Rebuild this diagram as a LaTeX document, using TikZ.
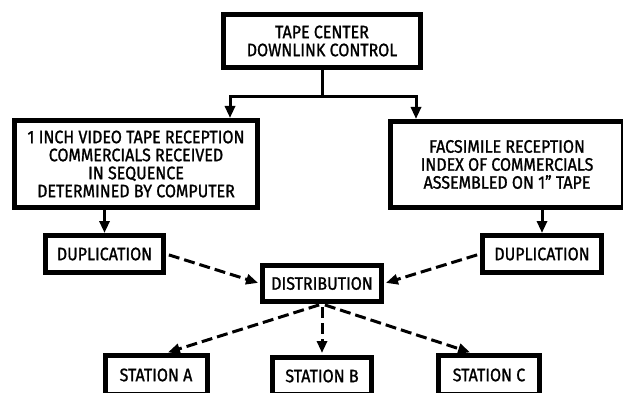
\documentclass[tikz,border=0pt]{standalone}
\usepackage{fontspec}
\setmainfont[FakeStretch=0.89,FakeBold=1.2]{Fira Sans}
\usetikzlibrary{arrows.meta,positioning}

\tikzset{
    block/.style={draw, line width=5pt, align=center, inner sep=0pt,
        font=\fontsize{18}{18}\selectfont},
    flow/.style={line width=3pt, -{Triangle[length=12pt,width=10pt]}},
    feed/.style={flow, dash pattern=on 11pt off 5pt, shorten >=2pt, shorten <=3pt}
}

\begin{document}
\begin{tikzpicture}[x=1pt,y=1pt]
        \useasboundingbox (0,0) rectangle (623,-393);
        \clip (0,0) rectangle (623,-393);
        \node [block, minimum width=197pt, minimum height=53pt] (tape) at (322,-41)
            {TAPE CENTER\\DOWNLINK CONTROL};
        \node [block, minimum width=243pt, minimum height=87pt,
               below=48pt of tape, xshift=-186pt] (video)
            {1 INCH VIDEO TAPE RECEPTION\\COMMERCIALS RECEIVED\\IN SEQUENCE\\DETERMINED BY COMPUTER};
        \node [block, minimum width=233pt, minimum height=86pt,
               below=49pt of tape, xshift=185pt] (fax)
            {FACSIMILE RECEPTION\\INDEX OF COMMERCIALS\\ASSEMBLED ON 1'' TAPE};
        \node [block, minimum width=118pt, minimum height=37pt,
               below=23pt of video, xshift=-31.5pt] (dupl) {DUPLICATION};
        \node [block, minimum width=119pt, minimum height=37pt,
               below=23pt of fax, xshift=35pt] (dupr) {DUPLICATION};
        \node [block, minimum width=119pt, minimum height=36pt,
               below=193pt of tape] (dist) {DISTRIBUTION};
        \node [block, minimum width=102pt, minimum height=39pt,
               below=49pt of dist, xshift=-166pt] (sta) {STATION A};
        \node [block, minimum width=99pt, minimum height=37pt,
               below=51pt of dist] (stb) {STATION B};
        \node [block, minimum width=101pt, minimum height=39pt,
               below=49pt of dist, xshift=167pt] (stc) {STATION C};
        \coordinate [below=27pt of tape] (split);
        % downlink to both receptions
        \draw [line width=3pt] (tape) -- (split);
        \draw [flow] (split) -| ([xshift=94pt]video.north);
        \draw [flow] (split) -| ([xshift=-91pt]fax.north);
        \draw [flow] (video.south -| dupl.north) -- (dupl);
        \draw [flow] (fax.south -| dupr.north) -- (dupr);
        % tapes go out to stations
        \draw [feed] (dupl.east) -- (dist.west);
        \draw [feed] (dupr.west) -- (dist.east);
        \draw [feed] (dist.south) -- ([xshift=10pt]sta.north);
        \draw [feed] (dist.south) -- (stb.north);
        \draw [feed] (dist.south) -- ([xshift=-17pt]stc.north);
\end{tikzpicture}
\end{document}
